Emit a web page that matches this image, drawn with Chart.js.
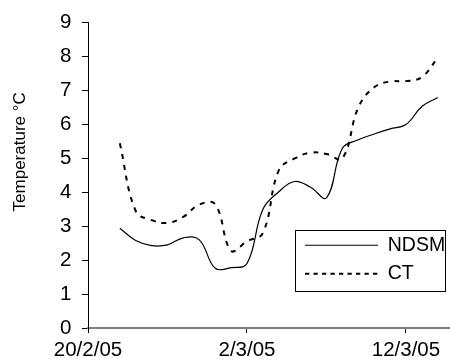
<!DOCTYPE html>
<html><head><meta charset="utf-8">
<script src="https://cdn.jsdelivr.net/npm/chart.js@4/dist/chart.umd.min.js"></script>
<style>html,body{margin:0;padding:0;background:#fff;overflow:hidden}canvas{display:block}</style>
</head><body>
<canvas id="c" width="450" height="359"></canvas>
<script>
const startDate = '2005-02-20';
const dates = ['2005-02-22','2005-02-23','2005-02-24','2005-02-25','2005-02-26','2005-02-27','2005-02-28',
  '2005-03-01','2005-03-02','2005-03-03','2005-03-04','2005-03-05','2005-03-06','2005-03-07',
  '2005-03-08','2005-03-09','2005-03-10','2005-03-11','2005-03-12','2005-03-13','2005-03-14'];
const ndsm = [2.94,2.58,2.43,2.45,2.66,2.60,1.76,1.78,1.90,3.50,4.02,4.32,4.15,3.84,5.30,5.55,5.72,5.87,6.00,6.53,6.80];
const ct   = [5.45,3.45,3.18,3.10,3.28,3.64,3.65,2.28,2.56,2.80,4.65,5.00,5.17,5.13,5.00,6.50,7.10,7.27,7.28,7.40,7.97];
const xTickLabels = ['20/2/05','2/3/05','12/3/05'];
const xTickStep = 10;       // days between date ticks
const xMaxDays = 22.77;     // right end of date axis, days after start
const yMin = 0, yMax = 9, yStep = 1;
const yTitle = 'Temperature \u00B0C';
const seriesNames = ['NDSM','CT'];

const DAY = 86400000;
const t0 = Date.parse(startDate);
const toPts = vals => dates.map((d, i) => ({x: (Date.parse(d) - t0) / DAY, y: vals[i]}));

const FONT = "'Liberation Sans', Arial, Helvetica, sans-serif";
Chart.defaults.color = '#000';
Chart.defaults.font.family = FONT;

const frame = {
  id: 'frame',
  afterLayout(chart) {
    const ca = chart.chartArea, lg = chart.legend;
    lg.left = ca.right - 154;
    lg.right = ca.right - 4;
    lg.top = ca.bottom - 101.5;
    lg.bottom = ca.bottom;
  },
  beforeDraw(chart) {
    const ctx = chart.ctx, ca = chart.chartArea;
    ctx.save();
    ctx.fillStyle = '#fff';
    ctx.fillRect(0, 0, chart.width, chart.height);
    ctx.strokeStyle = '#000';
    ctx.lineWidth = 1;
    ctx.strokeRect(Math.round(ca.right - 155) + 0.5, Math.round(ca.bottom - 98) + 0.5, 150, 61);
    ctx.restore();
  }
};

new Chart(document.getElementById('c'), {
  type: 'line',
  data: {
    datasets: [
      {label: seriesNames[0], data: toPts(ndsm), borderColor: '#000', borderWidth: 1.2,
       pointRadius: 0, tension: 0.4, fill: false},
      {label: seriesNames[1], data: toPts(ct), borderColor: '#000', borderWidth: 2,
       borderDash: [5, 6], pointRadius: 0, tension: 0.4, fill: false}
    ]
  },
  options: {
    responsive: false,
    animation: false,
    devicePixelRatio: 1,
    layout: {padding: {top: 18, right: 0, left: 0, bottom: 0}},
    plugins: {
      legend: {
        position: 'chartArea',
        align: 'start',
        labels: {
          usePointStyle: true, pointStyle: 'line', pointStyleWidth: 73,
          padding: 9, color: '#000',
          font: {size: 19.5, family: FONT},
          generateLabels(chart) {
            const items = Chart.defaults.plugins.legend.labels.generateLabels(chart);
            items.forEach((it, i) => {
              const ds = chart.data.datasets[i];
              it.lineWidth = ds.borderDash ? 2 : 1;
              it.lineDash = ds.borderDash ? [4.3, 4.2] : [];
              it.strokeStyle = '#000';
              it.fillStyle = '#000';
            });
            return items;
          }
        }
      },
      tooltip: {enabled: false}
    },
    scales: {
      x: {
        type: 'linear', min: 0, max: xMaxDays,
        afterFit(s) { s.height = 31; },
        border: {display: true, color: '#808080', width: 2},
        grid: {drawOnChartArea: false, drawTicks: true, tickLength: 5, color: '#000'},
        ticks: {
          stepSize: xTickStep, includeBounds: false, autoSkip: false, maxRotation: 0,
          padding: 5.5, color: '#000', font: {size: 20.5, family: FONT},
          callback: v => xTickLabels[Math.round(v / xTickStep)] ?? ''
        }
      },
      y: {
        min: yMin, max: yMax,
        afterFit(s) { s.width = 88; },
        border: {display: true, color: '#000', width: 1},
        grid: {drawOnChartArea: false, drawTicks: true, tickLength: 6, color: '#000'},
        ticks: {stepSize: yStep, padding: 10.5, color: '#000', font: {size: 20.5, family: FONT}},
        title: {
          display: true,
          text: '\u00A0'.repeat(10) + yTitle,
          color: '#000', padding: {top: 10.5, bottom: 0},
          font: {size: 17, family: FONT}
        }
      }
    }
  },
  plugins: [frame]
});
</script>
</body></html>
